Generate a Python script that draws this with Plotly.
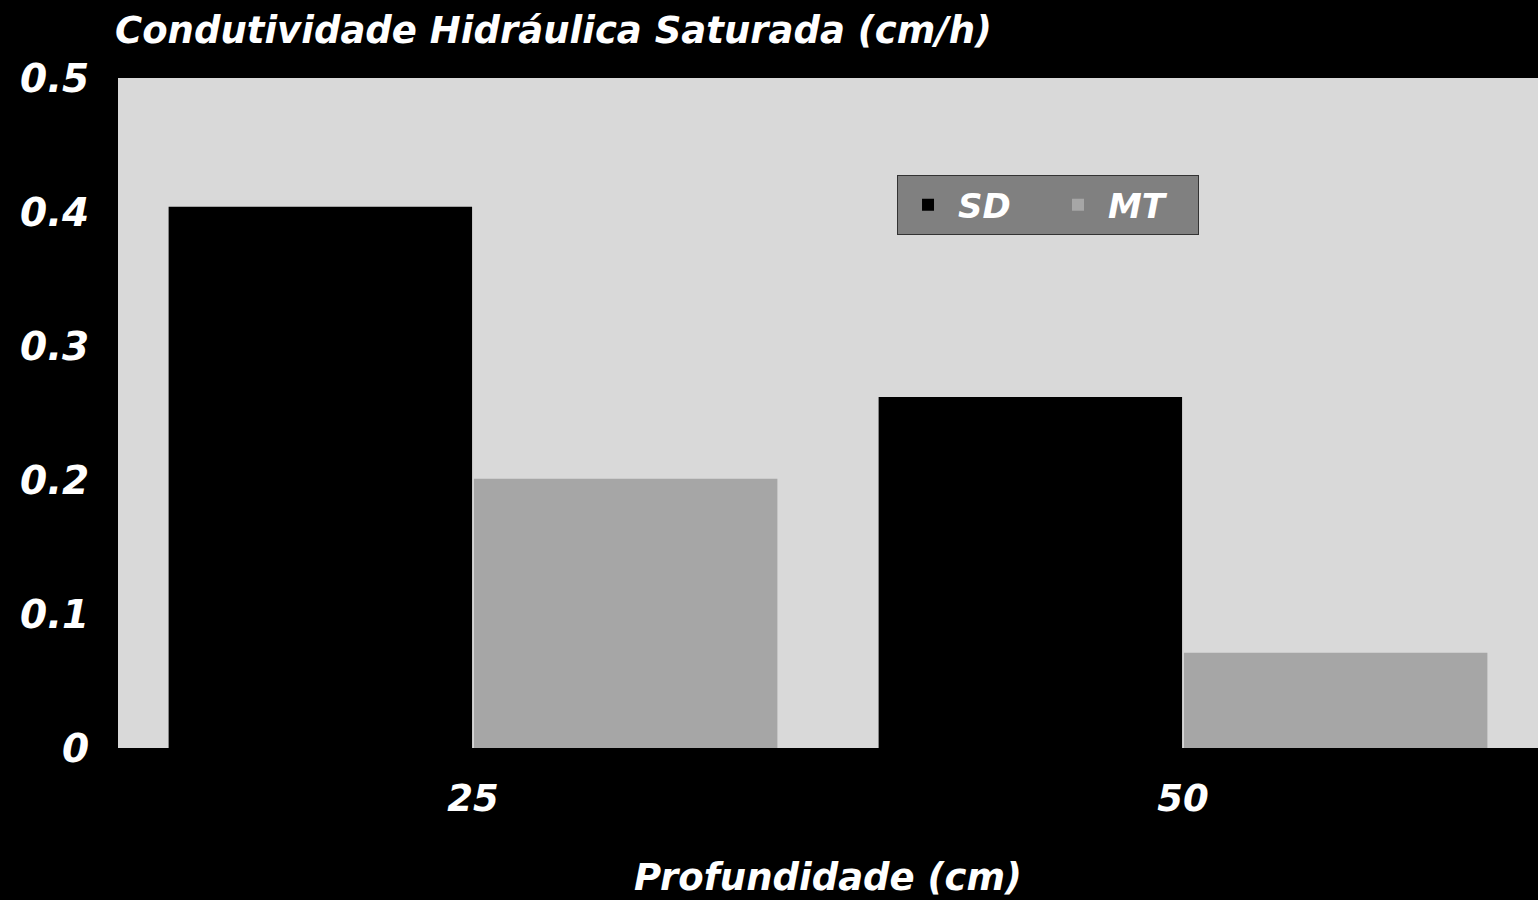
import plotly.graph_objects as go

categories = ["25", "50"]
sd_values = [0.404, 0.262]
mt_values = [0.201, 0.071]
y_ticks = [0, 0.1, 0.2, 0.3, 0.4, 0.5]
y_tick_labels = ["0", "0.1", "0.2", "0.3", "0.4", "0.5"]

FONT = "DejaVu Sans"
bold_it = dict(family=FONT, color="white", weight="bold", style="italic")

fig = go.Figure()
fig.add_trace(go.Bar(name="SD", x=categories, y=sd_values,
                     marker=dict(color="#000000", line=dict(width=0))))
fig.add_trace(go.Bar(name="MT", x=categories, y=mt_values,
                     marker=dict(color="#a6a6a6", line=dict(width=0))))

fig.update_layout(
    width=1538, height=900,
    paper_bgcolor="#000000", plot_bgcolor="#d9d9d9",
    margin=dict(l=118, r=0, t=78, b=152),
    barmode="group", bargap=0.14, bargroupgap=0.006,
    showlegend=True,
    legend=dict(orientation="h", x=0.5486, y=0.855, xanchor="left", yanchor="top",
                bgcolor="#808080", bordercolor="#333333", borderwidth=1,
                font=dict(size=34, **bold_it), itemwidth=50,
                entrywidth=85, entrywidthmode="pixels",
                traceorder="normal"),
    title=dict(text="Condutividade Hidráulica Saturada (cm/h)",
               x=115/1538, xanchor="left", y=1 - 30/900, yanchor="middle",
               font=dict(size=37, **bold_it)),
    xaxis=dict(showgrid=False, zeroline=False, showline=False,
               tickfont=dict(size=37, **bold_it), ticks="outside", ticklen=18,
               tickcolor="#000000",
               title=dict(text="Profundidade (cm)", font=dict(size=37, **bold_it),
                          standoff=44)),
    yaxis=dict(range=[0, 0.5], tickvals=y_ticks, ticktext=y_tick_labels,
               showgrid=False, zeroline=False, showline=False,
               tickfont=dict(size=39, **bold_it), ticks="outside", ticklen=20,
               tickcolor="#000000"),
)

fig.write_html(
    "out.html",
    config={"displayModeBar": False},
    post_script="document.body.style.margin='0';document.body.style.background='#000';"
                "document.body.style.overflow='hidden';",
)
